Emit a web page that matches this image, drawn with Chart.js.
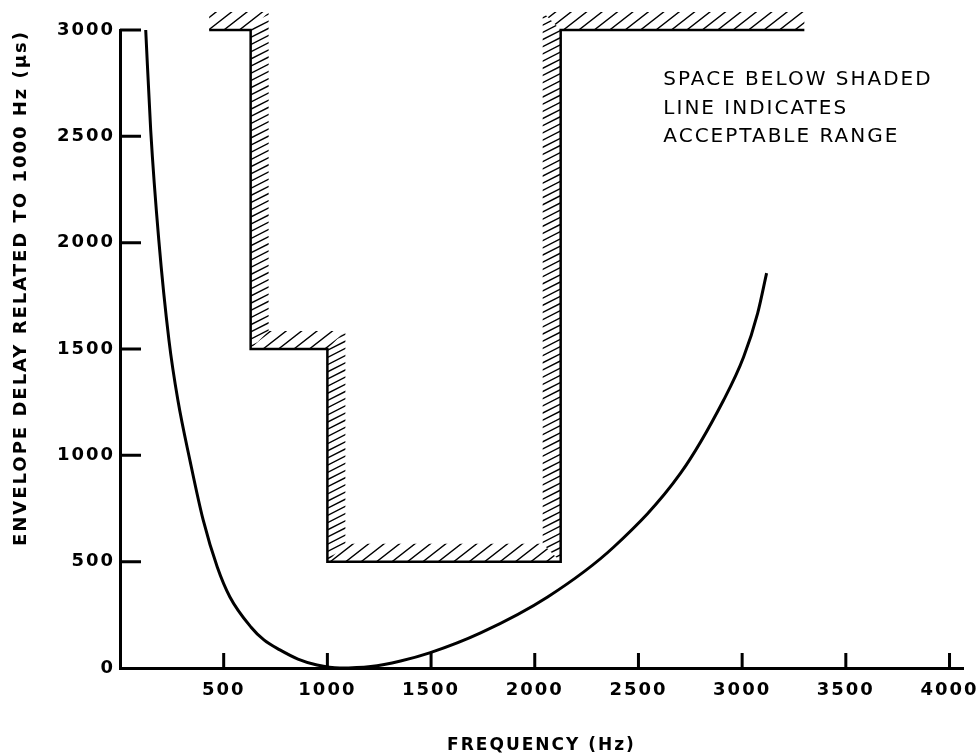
<!DOCTYPE html>
<html>
<head>
<meta charset="utf-8">
<script src="https://cdn.jsdelivr.net/npm/chart.js@4.4.1/dist/chart.umd.min.js"></script>
<style>
  html, body { margin: 0; padding: 0; background: #fff; }
  canvas { display: block; }
</style>
</head>
<body>
<canvas id="delayChart" width="976" height="754"></canvas>
<script>
// envelope delay curve (Hz, microseconds)
const freq  = [124, 148, 187, 236, 279, 338, 401, 469, 530, 631, 694, 771, 858, 950, 1060,
               1209, 1353, 1493, 1739, 2062, 2381, 2704, 2911, 3007, 3075, 3118];
const delay = [3000, 2530, 2013, 1542, 1260, 973, 696, 475, 334, 193, 132, 85, 42, 14, 0,
               7, 33, 71, 165, 334, 569, 917, 1260, 1462, 1669, 1857];

// limit line (shaded side is the unacceptable one)
const maskFreq  = [430, 630, 630, 1000, 1000, 2125, 2125, 3300];
const maskDelay = [3000, 3000, 1500, 1500, 500, 500, 3000, 3000];

const xTicks = [500, 1000, 1500, 2000, 2500, 3000, 3500, 4000];
const yTicks = [0, 500, 1000, 1500, 2000, 2500, 3000];

const noteLines = ["SPACE BELOW SHADED", "LINE INDICATES", "ACCEPTABLE RANGE"];
const noteFreq = 2620, noteDelay = 2740;

const FONT = "DejaVu Sans";

function toPoints(xs, ys) {
    return xs.map((x, i) => ({ x: x, y: ys[i] }));
}

// hatch lines inside a polygon
function hatch(ctx, poly, angle, gap) {
    ctx.save();
    ctx.beginPath();
    poly.forEach((p, i) => i ? ctx.lineTo(p[0], p[1]) : ctx.moveTo(p[0], p[1]));
    ctx.closePath();
    ctx.clip();
    const dx = Math.cos(angle), dy = -Math.sin(angle);
    const nx = -dy, ny = dx;
    const xs = poly.map(p => p[0]), ys = poly.map(p => p[1]);
    const cx = (Math.min(...xs) + Math.max(...xs)) / 2;
    const cy = (Math.min(...ys) + Math.max(...ys)) / 2;
    const L = Math.hypot(Math.max(...xs) - Math.min(...xs), Math.max(...ys) - Math.min(...ys)) + 20;
    const ts = poly.map(p => p[0] * nx + p[1] * ny);
    const cs = cx * dx + cy * dy;
    ctx.beginPath();
    for (let t = Math.floor(Math.min(...ts) / gap) * gap; t <= Math.max(...ts); t += gap) {
        const px = nx * t + dx * cs, py = ny * t + dy * cs;
        ctx.moveTo(px - dx * L, py - dy * L);
        ctx.lineTo(px + dx * L, py + dy * L);
    }
    ctx.lineWidth = 1.4;
    ctx.strokeStyle = "#000";
    ctx.stroke();
    ctx.restore();
}

const spacing = {
    id: "spacing",
    beforeUpdate(chart) { chart.ctx.letterSpacing = "2px"; },
    beforeDraw(chart) { chart.ctx.letterSpacing = "2px"; }
};

const extras = {
    id: "extras",
    afterDatasetsDraw(chart) {
        const ctx = chart.ctx;
        const xs = chart.scales.x, ys = chart.scales.y;
        const area = chart.chartArea;

        // shading along the limit line, on the left of the direction of travel
        const pts = maskFreq.map((f, i) => [xs.getPixelForValue(f), ys.getPixelForValue(maskDelay[i])]);
        const w = 18;
        const normals = [];
        for (let i = 0; i < pts.length - 1; i++) {
            const ux = pts[i + 1][0] - pts[i][0], uy = pts[i + 1][1] - pts[i][1];
            const len = Math.hypot(ux, uy);
            normals.push([uy / len, -ux / len]);
        }
        const offsetAt = i => {
            let n = [0, 0];
            if (i > 0) n = [n[0] + normals[i - 1][0], n[1] + normals[i - 1][1]];
            if (i < normals.length) n = [n[0] + normals[i][0], n[1] + normals[i][1]];
            return [pts[i][0] + n[0] * w, pts[i][1] + n[1] * w];
        };
        for (let i = 0; i < pts.length - 1; i++) {
            const poly = [pts[i], pts[i + 1], offsetAt(i + 1), offsetAt(i)];
            const horizontal = Math.abs(normals[i][1]) > 0.5;
            if (horizontal) hatch(ctx, poly, 38 * Math.PI / 180, 9.5);
            else hatch(ctx, poly, 27 * Math.PI / 180, 6.4);
        }

        // inward tick marks
        ctx.save();
        ctx.strokeStyle = "#000";
        ctx.lineWidth = 3;
        ctx.beginPath();
        yTicks.filter(v => v > 0).forEach(v => {
            const y = ys.getPixelForValue(v);
            ctx.moveTo(area.left, y);
            ctx.lineTo(area.left + 21, y);
        });
        xTicks.forEach(v => {
            const x = xs.getPixelForValue(v);
            ctx.moveTo(x, area.bottom);
            ctx.lineTo(x, area.bottom - 15);
        });
        ctx.stroke();

        // note
        ctx.fillStyle = "#000";
        ctx.font = "20px '" + FONT + "'";
        ctx.textAlign = "left";
        ctx.textBaseline = "alphabetic";
        const nx = xs.getPixelForValue(noteFreq), ny = ys.getPixelForValue(noteDelay);
        noteLines.forEach((t, i) => ctx.fillText(t, nx, ny + i * 28.5));
        ctx.restore();
    }
};

document.addEventListener("DOMContentLoaded", function () {
    const ctx = document.getElementById("delayChart").getContext("2d");
    new Chart(ctx, {
        type: "scatter",
        data: {
            datasets: [
                {
                    label: "Envelope delay",
                    data: toPoints(freq, delay),
                    showLine: true,
                    borderColor: "#000",
                    borderWidth: 3,
                    pointRadius: 0,
                    cubicInterpolationMode: "monotone",
                    clip: 8
                },
                {
                    label: "Limit",
                    data: toPoints(maskFreq, maskDelay),
                    showLine: true,
                    borderColor: "#000",
                    borderWidth: 2.5,
                    pointRadius: 0,
                    tension: 0,
                    clip: 8
                }
            ]
        },
        options: {
            responsive: false,
            animation: false,
            devicePixelRatio: 1,
            layout: { padding: { left: 0, top: 30, right: 13, bottom: 0 } },
            plugins: {
                legend: { display: false },
                tooltip: { enabled: false }
            },
            scales: {
                x: {
                    type: "linear",
                    min: 0,
                    max: 4065,
                    afterBuildTicks: s => { s.ticks = xTicks.map(v => ({ value: v })); },
                    afterFit: s => { s.height = 86; s.paddingLeft = 0; s.paddingRight = 0; },
                    grid: { display: false, drawTicks: false },
                    border: { display: true, color: "#000", width: 3 },
                    ticks: {
                        color: "#000",
                        padding: 12,
                        maxRotation: 0,
                        autoSkip: false,
                        callback: v => String(v),
                        font: { family: FONT, size: 18, weight: "bold" }
                    },
                    title: {
                        display: true,
                        text: "FREQUENCY (Hz)",
                        color: "#000",
                        padding: { top: 0, bottom: 0 },
                        font: { family: FONT, size: 17, weight: "bold", lineHeight: 1 }
                    }
                },
                y: {
                    type: "linear",
                    min: 0,
                    max: 3000,
                    afterBuildTicks: s => { s.ticks = yTicks.map(v => ({ value: v })); },
                    afterFit: s => { s.width = 120; s.paddingTop = 0; s.paddingBottom = 0; },
                    grid: { display: false, drawTicks: false },
                    border: { display: true, color: "#000", width: 3 },
                    ticks: {
                        color: "#000",
                        padding: 5,
                        autoSkip: false,
                        callback: v => String(v),
                        font: { family: FONT, size: 18, weight: "bold" }
                    },
                    title: {
                        display: true,
                        text: "ENVELOPE DELAY RELATED TO 1000 Hz (μs)",
                        color: "#000",
                        align: "end",
                        padding: { top: 11, bottom: 0 },
                        font: { family: FONT, size: 18, weight: "bold" }
                    }
                }
            }
        },
        plugins: [spacing, extras]
    });
});
</script>
</body>
</html>
